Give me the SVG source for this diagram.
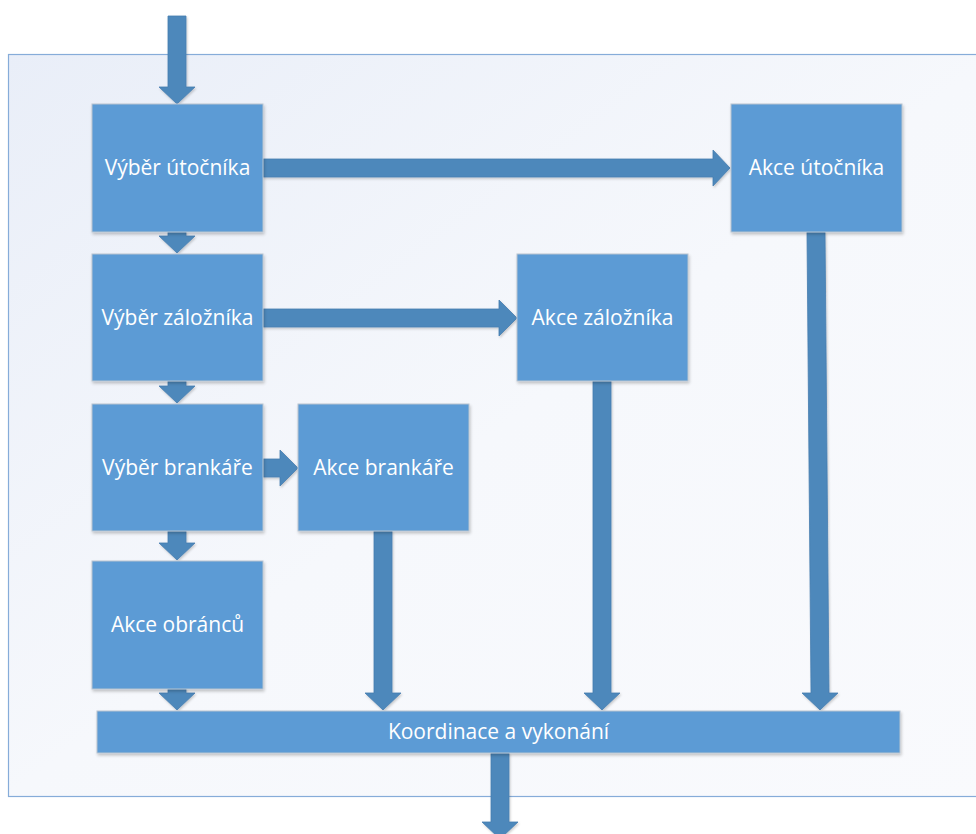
<svg xmlns="http://www.w3.org/2000/svg" width="976" height="834" viewBox="0 0 976 834">
<defs>
<linearGradient id="bg" x1="0" y1="0" x2="1" y2="1">
<stop offset="0" stop-color="#e9eef8"/>
<stop offset="0.5" stop-color="#f6f8fc"/>
<stop offset="1" stop-color="#f9fafd"/>
</linearGradient>
<filter id="sh" x="-10%" y="-10%" width="130%" height="130%">
<feDropShadow dx="1" dy="2" stdDeviation="1.5" flood-color="#000" flood-opacity="0.22"/>
</filter>
<filter id="ash" x="-20%" y="-20%" width="140%" height="140%">
<feDropShadow dx="1" dy="1.5" stdDeviation="1" flood-color="#000" flood-opacity="0.2"/>
</filter>
</defs>
<style>
.node rect{fill:#5b9bd5;stroke:#b9c4cf;stroke-width:1;filter:url(#sh)}
.node text{fill:#ffffff;font-family:"Open Sans","Liberation Sans",sans-serif;font-size:21px;text-anchor:middle}
.arr{fill:#4e88bb;stroke:#467db0;stroke-width:0.8;filter:url(#ash)}
</style>
<rect x="8.5" y="54.5" width="990" height="742" fill="url(#bg)" stroke="#86acd9" stroke-width="1.2"/>
<g id="connectors">
<polygon class="arr" points="168,16 186,16 186,87 195,87 177,104 159,87 168,87"/>
<polygon class="arr" points="168,232 186,232 186,236 195,236 177,253 159,236 168,236"/>
<polygon class="arr" points="168,381 186,381 186,386 195,386 177,403 159,386 168,386"/>
<polygon class="arr" points="168,531 186,531 186,543 195,543 177,560 159,543 168,543"/>
<polygon class="arr" points="168,689 186,689 186,693 195,693 177,710 159,693 168,693"/>
<polygon class="arr" points="374,531 392,531 392,693 401,693 383,710 365,693 374,693"/>
<polygon class="arr" points="593,381 611,381 611,693 620,693 602,710 584,693 593,693"/>
<polygon class="arr" points="807,232 825,232 829,693 838,693 820,710 802,693 811,693"/>
<polygon class="arr" points="491,753 509,753 509,822 518,822 500,839 482,822 491,822"/>
<polygon class="arr" points="263,159 713,159 713,150 730,168 713,186 713,177 263,177"/>
<polygon class="arr" points="263,309 499,309 499,300 517,318 499,336 499,327 263,327"/>
<polygon class="arr" points="263,459 280,459 280,450 298,468 280,486 280,477 263,477"/>
</g>
<g id="vyber-utocnika" class="node"><rect x="92" y="104" width="171" height="128"/><text x="177.5" y="175">Výběr útočníka</text></g>
<g id="vyber-zaloznika" class="node"><rect x="92" y="254" width="171" height="127"/><text x="177.5" y="325">Výběr záložníka</text></g>
<g id="vyber-brankare" class="node"><rect x="92" y="404" width="171" height="127"/><text x="177.5" y="475">Výběr brankáře</text></g>
<g id="akce-obrancu" class="node"><rect x="92" y="561" width="171" height="128"/><text x="177.5" y="632">Akce obránců</text></g>
<g id="akce-utocnika" class="node"><rect x="731" y="104" width="171" height="128"/><text x="816.5" y="175">Akce útočníka</text></g>
<g id="akce-zaloznika" class="node"><rect x="517" y="254" width="171" height="127"/><text x="602.5" y="325">Akce záložníka</text></g>
<g id="akce-brankare" class="node"><rect x="298" y="404" width="171" height="127"/><text x="383.5" y="475">Akce brankáře</text></g>
<g id="koordinace" class="node"><rect x="97" y="711" width="803" height="42"/><text x="498.5" y="739">Koordinace a vykonání</text></g>
</svg>
